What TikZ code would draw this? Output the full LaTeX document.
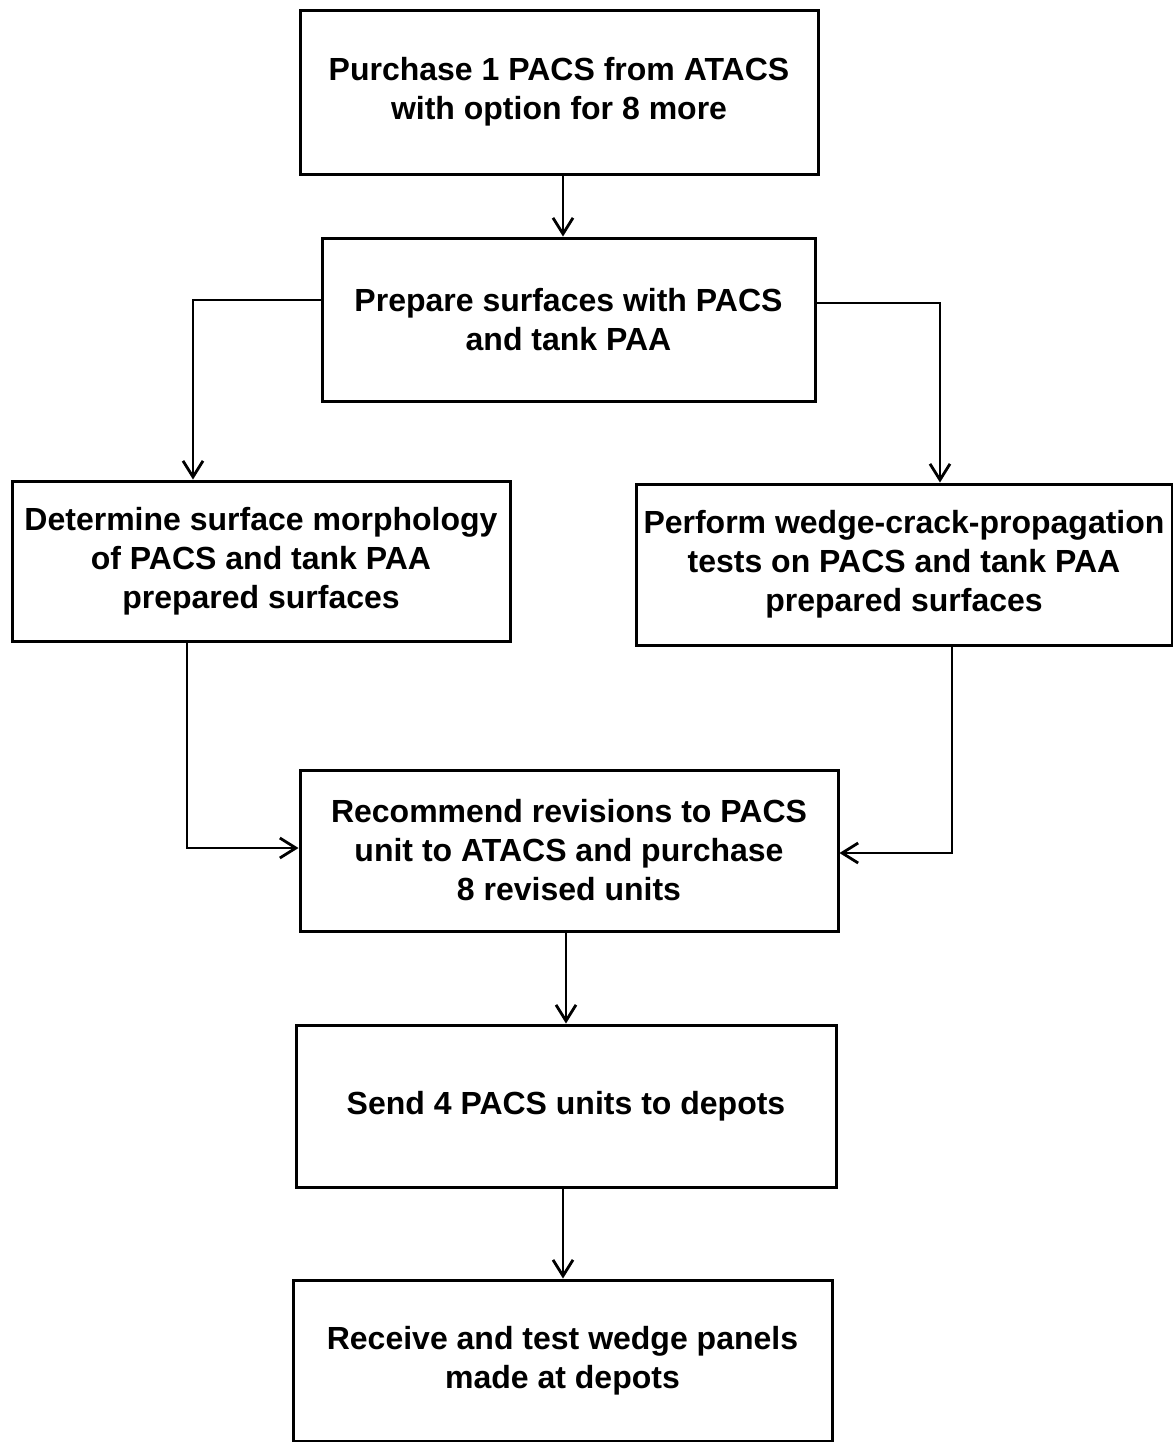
\documentclass[tikz,border=0pt]{standalone}
\usepackage{fontspec}
\setmainfont{Liberation Sans}
\usetikzlibrary{arrows.meta}
\begin{document}
\begin{tikzpicture}[x=0.5pt,y=-0.5pt,
  box/.style={draw, line width=1.5pt, rectangle, align=center, inner sep=0pt,
    font=\bfseries\fontsize{16}{19.5}\selectfont},
  conn/.style={line width=1.3pt, -{Straight Barb[length=8pt,width=10pt,line width=1.4pt]}}]
\useasboundingbox (0,0) rectangle (1173,1442);
\node[box, minimum width=259pt, minimum height=82pt] (b1) at (559,92)
  {Purchase 1 PACS from ATACS\\with option for 8 more};
\node[box, minimum width=246.5pt, minimum height=81.5pt] (b2) at (568.5,319.5)
  {Prepare surfaces with PACS\\and tank PAA};
\node[box, minimum width=249pt, minimum height=80pt] (b3) at (261,561)
  {Determine surface morphology\\of PACS and tank PAA\\prepared surfaces};
\node[box, minimum width=268pt, minimum height=80.5pt] (b4) at (904,564.5)
  {Perform wedge-crack-propagation\\tests on PACS and tank PAA\\prepared surfaces};
\node[box, minimum width=269pt, minimum height=80.5pt] (b5) at (569,850.5)
  {Recommend revisions to PACS\\unit to ATACS and purchase\\8 revised units};
\node[box, minimum width=270pt, minimum height=81pt] (b6) at (566,1106)
  {Send 4 PACS units to depots};
\node[box, minimum width=269.5pt, minimum height=80.5pt] (b7) at (562.5,1360.5)
  {Receive and test wedge panels\\made at depots};
\draw[conn] ([xshift=2pt]b1.south) -- ([xshift=2pt]b1.south |- b2.north);
\draw[conn] ([yshift=9.75pt]b2.west) -| ([xshift=-34pt]b3.north);
\draw[conn] ([yshift=8.25pt]b2.east) -| ([xshift=18pt]b4.north);
\draw[conn] ([xshift=-37pt]b3.south) |- ([yshift=1.25pt]b5.west);
\draw[conn] ([xshift=24pt]b4.south) |- ([yshift=-1.25pt]b5.east);
\draw[conn] ([xshift=-1.5pt]b5.south) -- ([xshift=-1.5pt]b5.south |- b6.north);
\draw[conn] ([xshift=-1.5pt]b6.south) -- ([xshift=-1.5pt]b6.south |- b7.north);
\end{tikzpicture}
\end{document}
